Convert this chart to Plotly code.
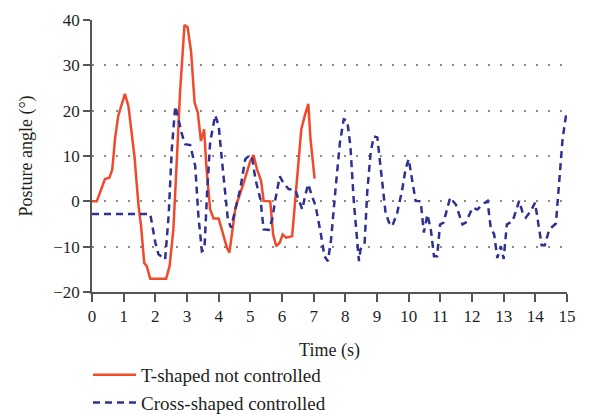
import plotly.graph_objects as go

t_red = [0, 0.15, 0.41, 0.55, 0.64, 0.73, 0.83, 1.04, 1.15, 1.26, 1.34, 1.47, 1.55, 1.65, 1.73, 1.84,
         2.34, 2.45, 2.57, 2.68, 2.78, 2.92, 3.02, 3.13, 3.24, 3.34, 3.44, 3.54, 3.61, 3.73, 3.84, 4.0,
         4.26, 4.34, 4.53, 4.79, 5.0, 5.1, 5.21, 5.34, 5.42, 5.63, 5.72, 5.82, 5.93, 6.02, 6.13, 6.32,
         6.48, 6.61, 6.72, 6.83, 6.9, 7.03]
y_red = [0, 0, 4.9, 5.2, 7, 14, 18.9, 23.7, 21, 14.4, 10, -1, -5.5, -13.6, -14.3, -17.1,
         -17.1, -14.3, -6.2, 9.3, 24, 38.9, 38.4, 32.9, 21.8, 19.6, 13.3, 15.9, 7.8, -1.8, -3.8, -3.8,
         -10.2, -11.3, -1.4, 4.1, 8.9, 10.2, 7.1, 4.5, 0.1, 0, -7.3, -9.9, -9.1, -7.3, -8, -7.7,
         6.3, 15.9, 18.9, 21.5, 13.7, 5.0]

t_blue = [0, 1.84, 2.0, 2.1, 2.31, 2.42, 2.52, 2.63, 2.73, 2.84, 2.94, 3.1, 3.26, 3.36, 3.47, 3.55,
          3.63, 3.73, 3.89, 4.0, 4.1, 4.18, 4.29, 4.39, 4.53, 4.68, 4.84, 4.95, 5.05, 5.16, 5.32, 5.42,
          5.58, 5.69, 5.79, 5.93, 6.05, 6.21, 6.42, 6.53, 6.64, 6.74, 6.83, 6.93, 7.06, 7.22, 7.34, 7.45,
          7.55, 7.69, 7.83, 7.95, 8.06, 8.16, 8.27, 8.38, 8.43, 8.48, 8.61, 8.69, 8.8, 8.9, 9.01, 9.11,
          9.27, 9.38, 9.48, 9.64, 9.8, 9.9, 10.0, 10.22, 10.38, 10.48, 10.59, 10.7, 10.8, 10.9, 10.99,
          11.1, 11.31, 11.49, 11.7, 11.8, 12.02, 12.17, 12.33, 12.49, 12.59, 12.7, 12.8, 12.91, 13.0,
          13.1, 13.28, 13.39, 13.49, 13.6, 13.7, 13.86, 13.99, 14.09, 14.2, 14.3, 14.44, 14.65, 14.75,
          14.86, 14.97]
y_blue = [-2.8, -2.8, -9.1, -11.7, -12.8, -3.2, 11.5, 21, 18.1, 14.8, 12.6, 12.4, 7.8, -3.2, -11, -10.6,
          1.2, 13, 19, 16.7, 9.3, 3, -4, -5.8, -1.8, 2.7, 9.3, 10, 9.9, 4.9, 0.4, -6.2,
          -6.3, -4, 0.4, 5.5, 4, 2.7, 2.5, 0.4, -1.8, 1.5, 3.8, 1.5, -1, -6.9, -12.1, -13.2,
          -8.4, 2.7, 13, 18.1, 17.8, 12.2, -0.3, -9.1, -13.2, -10.6, -9.1, 1.9, 10.8, 14.3, 14.1, 7.8,
          -2.5, -4.7, -5.5, -2.5, 2.7, 7.1, 9.3, 0.1, 0, -6.9, -2.9, -6.2, -12.1, -12.1, -5.1,
          -4.7, 0.8, -0.7, -5.1, -4.7, -1.4, -1.8, -0.7, 0.1, -5.8, -7.3, -12.5, -9.9, -12.7,
          -5.1, -4.4, -2.1, 0.1, -2.5, -3.6, -2.1, -0.3, -4.7, -9.7, -9.7, -6.2, -4.9, 4.9,
          13.7, 19]

x_ticks = list(range(0, 16))
y_ticks = [-20, -10, 0, 10, 20, 30, 40]

font_family = "Liberation Serif"
text_color = "#231F20"
axis_color = "#555555"

fig = go.Figure()
fig.add_trace(go.Scatter(x=t_red, y=y_red, mode="lines", name="T-shaped not controlled",
                         line=dict(color="#EF4A2B", width=2.5)))
fig.add_trace(go.Scatter(x=t_blue, y=y_blue, mode="lines", name="Cross-shaped controlled",
                         line=dict(color="#2E3192", width=2.5, dash="7px,5px")))

# page body has an 8px margin, so the figure is sized/offset to compensate
fig.update_layout(
    width=581, height=406,
    margin=dict(l=84, r=22, t=12, b=122, autoexpand=False),
    paper_bgcolor="white", plot_bgcolor="white",
    font=dict(family=font_family, size=17, color=text_color),
    showlegend=True,
    legend=dict(x=-0.0084, y=-0.235, xanchor="left", yanchor="top", orientation="v",
                font=dict(size=19), bgcolor="rgba(0,0,0,0)", tracegroupgap=0,
                itemwidth=43),
    xaxis=dict(range=[0, 15], tickvals=x_ticks, ticks="outside", ticklen=8, tickcolor=axis_color,
               tickwidth=1.5,
               showline=True, linecolor=axis_color, linewidth=1.5, showgrid=False, zeroline=False,
               title=dict(text="Time (s)", standoff=18, font=dict(size=18)),
               tickfont=dict(size=17)),
    yaxis=dict(range=[-20, 40], tickvals=y_ticks, ticks="outside", ticklen=7, tickcolor=axis_color,
               tickwidth=1.5,
               showline=True, linecolor=axis_color, linewidth=1.5, showgrid=True,
               gridcolor="#8a8a8a", griddash="2px,10px", gridwidth=1.5, zeroline=False,
               ticksuffix="\u00a0\u00a0",
               title=dict(text="Posture angle (°)", standoff=16, font=dict(size=18)),
               tickfont=dict(size=17)),
)

fig.write_html("out.html")
